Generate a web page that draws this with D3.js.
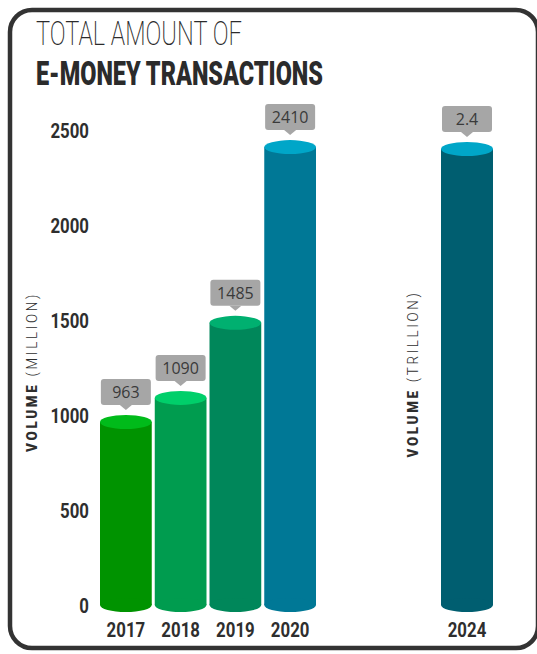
<!DOCTYPE html>
<html>
<head>
<meta charset="utf-8">
<script src="https://cdn.jsdelivr.net/npm/d3@7"></script>
<style>
  body { margin: 0; background: #fff; }
  svg { display: block; }
</style>
</head>
<body>
<svg width="537" height="654"></svg>
<script>
const years = ["2017", "2018", "2019", "2020"];
const volumesMillion = [963, 1090, 1485, 2410];
const yearsLater = ["2024"];
const volumesTrillion = [2.4];
const yTicks = [0, 500, 1000, 1500, 2000, 2500];

// colours per bar (body / top cap)
const bodyColors = ["#009300", "#009c4f", "#00875a", "#007896"];
const capColors = ["#00bb1a", "#00cf6a", "#00b070", "#00a6c8"];
const laterBody = "#005e70";
const laterCap = "#00a6c8";

const svg = d3.select("svg");
const width = +svg.attr("width");
const height = +svg.attr("height");

const condensed = "Roboto, 'Liberation Sans', sans-serif";
const ry = 7;

// frame
svg.append("rect")
    .attr("x", 10).attr("y", 10)
    .attr("width", 528).attr("height", 638)
    .attr("rx", 22)
    .attr("fill", "#fff")
    .attr("stroke", "#333")
    .attr("stroke-width", 4.5);

// title
svg.append("text")
    .attr("x", 36).attr("y", 45)
    .attr("font-family", condensed)
    .attr("font-weight", 200)
    .attr("font-size", 34)
    .attr("fill", "#2b2b2b")
    .attr("textLength", 206)
    .attr("lengthAdjust", "spacingAndGlyphs")
    .text("TOTAL AMOUNT OF");

svg.append("text")
    .attr("x", 36).attr("y", 85)
    .attr("font-family", condensed)
    .attr("font-weight", 900)
    .attr("font-size", 34)
    .attr("fill", "#2b2b2b")
    .attr("textLength", 287)
    .attr("lengthAdjust", "spacingAndGlyphs")
    .text("E-MONEY TRANSACTIONS");

// scales
const y = d3.scaleLinear()
    .domain([0, 2500])
    .range([605, 130]);

const y2 = d3.scaleLinear()
    .domain([0, 2.5])
    .range([605, 130]);

const x = d3.scaleBand()
    .domain(years)
    .range([100, 316])
    .paddingInner(0.055)
    .paddingOuter(0);

const x2 = d3.scaleBand()
    .domain(yearsLater)
    .range([441, 493]);

// y axis (labels only)
const yAxis = svg.append("g")
    .attr("transform", "translate(89,0)")
    .call(d3.axisLeft(y).tickValues(yTicks).tickFormat(d3.format("d")).tickSize(0).tickPadding(0));
yAxis.select(".domain").remove();
yAxis.selectAll("text")
    .attr("x", 0)
    .attr("dy", "0.36em")
    .attr("text-anchor", "end")
    .attr("transform", "scale(0.8,1)")
    .attr("font-family", condensed)
    .attr("font-weight", 700)
    .attr("font-size", 21)
    .attr("fill", "#2e2e2e");

// axis titles
function axisTitle(cx, cy, unit, len) {
    const t = svg.append("text")
        .attr("transform", `translate(${cx},${cy}) rotate(-90)`)
        .attr("text-anchor", "middle")
        .attr("dy", "0.36em")
        .attr("font-family", condensed)
        .attr("font-size", 15)
        .attr("letter-spacing", 3)
        .attr("fill", "#2e2e2e")
        .attr("textLength", len)
        .attr("lengthAdjust", "spacingAndGlyphs");
    t.append("tspan").attr("font-weight", 900).text("VOLUME ");
    t.append("tspan").attr("font-weight", 300).text(unit);
}
axisTitle(32, 372, "(MILLION)", 160);
axisTitle(413, 374, "(TRILLION)", 167);

// cylinders
function cylinder(g, cx, w, yTop, yBase, body, cap) {
    g.append("rect")
        .attr("x", cx - w / 2).attr("y", yTop)
        .attr("width", w).attr("height", yBase - yTop)
        .attr("fill", body);
    g.append("ellipse")
        .attr("cx", cx).attr("cy", yBase)
        .attr("rx", w / 2).attr("ry", ry)
        .attr("fill", body);
    g.append("ellipse")
        .attr("cx", cx).attr("cy", yTop)
        .attr("rx", w / 2).attr("ry", ry)
        .attr("fill", cap);
}

function valueTag(g, cx, yTop, label) {
    const tip = yTop - ry - 5;
    const bh = 26, bw = 50;
    const by = tip - 5 - bh;
    g.append("rect")
        .attr("x", cx - bw / 2).attr("y", by)
        .attr("width", bw).attr("height", bh)
        .attr("rx", 3)
        .attr("fill", "#a6a6a6");
    g.append("path")
        .attr("d", `M${cx - 6},${by + bh} L${cx},${tip} L${cx + 6},${by + bh} Z`)
        .attr("fill", "#a6a6a6");
    g.append("text")
        .attr("x", cx).attr("y", by + bh / 2)
        .attr("dy", "0.36em")
        .attr("text-anchor", "middle")
        .attr("font-family", "'Open Sans', sans-serif")
        .attr("font-size", 16)
        .attr("fill", "#3a3a3a")
        .text(label);
}

function yearLabel(cx, label) {
    svg.append("text")
        .attr("transform", `translate(${cx},637) scale(0.8,1)`)
        .attr("text-anchor", "middle")
        .attr("font-family", condensed)
        .attr("font-weight", 700)
        .attr("font-size", 21)
        .attr("fill", "#2e2e2e")
        .text(label);
}

years.forEach((yr, i) => {
    const g = svg.append("g");
    const cx = x(yr) + x.bandwidth() / 2;
    cylinder(g, cx, x.bandwidth(), y(volumesMillion[i]), y(0), bodyColors[i], capColors[i]);
    valueTag(g, cx, y(volumesMillion[i]), volumesMillion[i]);
    yearLabel(cx, yr);
});

yearsLater.forEach((yr, i) => {
    const g = svg.append("g");
    const cx = x2(yr) + x2.bandwidth() / 2;
    cylinder(g, cx, x2.bandwidth(), y2(volumesTrillion[i]), y2(0), laterBody, laterCap);
    valueTag(g, cx, y2(volumesTrillion[i]), volumesTrillion[i]);
    yearLabel(cx, yr);
});
</script>
</body>
</html>
